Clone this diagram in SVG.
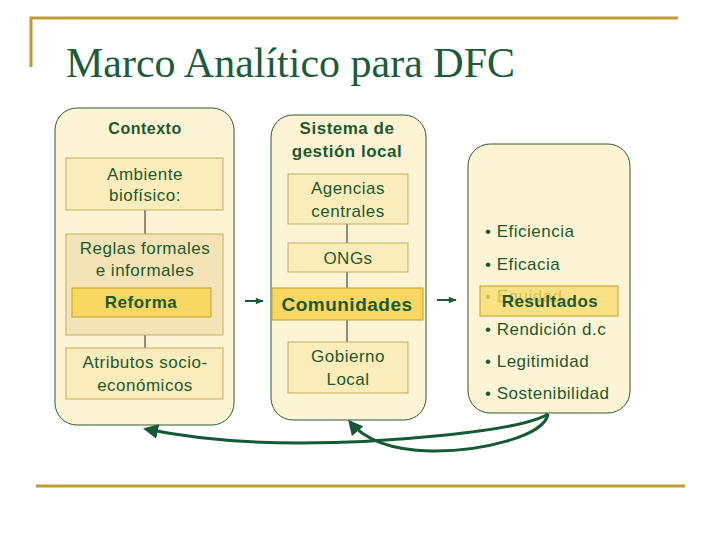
<svg xmlns="http://www.w3.org/2000/svg" width="720" height="540" viewBox="0 0 720 540">
<style>
.frame{fill:#fdf4d6;stroke:#2d5a2d;stroke-width:1}
.box{fill:#fbecbc;stroke:#c4ac5c;stroke-width:1}
.boxd{fill:#f4e3b6;stroke:#c4ac5c;stroke-width:1}
.hl{fill:#f8d862;stroke:#c4a030;stroke-width:1}
.t{font-family:"Liberation Sans",Arial,sans-serif;font-size:17px;letter-spacing:0.5px;fill:#1c5a2c;text-anchor:middle}
.b{font-weight:bold}
.l{text-anchor:start}
.big{font-size:19px;letter-spacing:0.5px}
.sm{font-size:16px}
.faint{fill:#7f8a2e}
.gold{stroke:#bd9c35;stroke-width:3;fill:none}
.link{stroke:#222;stroke-width:1}
.conn{stroke:#155a35;stroke-width:3;fill:none}
</style>
<defs>
<marker id="ah" viewBox="0 0 10 10" refX="8" refY="5" markerWidth="5" markerHeight="5" orient="auto-start-reverse" markerUnits="strokeWidth">
<path d="M0,0 L10,5 L0,10 z" fill="#155a35"/>
</marker>
<marker id="sa" viewBox="0 0 10 10" refX="9" refY="5" markerWidth="9" markerHeight="8" orient="auto" markerUnits="userSpaceOnUse">
<path d="M0,1 L10,5 L0,9 z" fill="#155a35"/>
</marker>
</defs>
<g id="decor">
<path class="gold" d="M31,67 V18 H678"/>
<path class="gold" d="M36,486 H685"/>
<text x="66" y="77" font-family="Liberation Serif,'Times New Roman',serif" font-size="42" fill="#1c5c3a">Marco Analítico para DFC</text>
</g>
<g id="contexto">
<rect class="frame" x="55" y="108" width="179" height="317" rx="22"/>
<text class="t b sm" x="145" y="134">Contexto</text>
<line class="link" x1="145" y1="210" x2="145" y2="234"/>
<line class="link" x1="145" y1="335" x2="145" y2="348"/>
<rect class="box" x="66" y="158" width="157" height="52"/>
<text class="t" x="145" y="180">Ambiente</text>
<text class="t" x="145" y="201">biofísico:</text>
<rect class="boxd" x="66" y="234" width="157" height="101"/>
<text class="t" x="145" y="254">Reglas formales</text>
<text class="t" x="145" y="276">e informales</text>
<rect class="hl" x="72" y="288" width="139" height="29"/>
<text class="t b" x="141" y="308">Reforma</text>
<rect class="box" x="66" y="348" width="157" height="51"/>
<text class="t" x="145" y="368">Atributos socio-</text>
<text class="t" x="145" y="391">económicos</text>
</g>
<g id="sistema">
<rect class="frame" x="271" y="115" width="155" height="305" rx="22"/>
<text class="t b" x="347" y="134">Sistema de</text>
<text class="t b" x="347" y="157">gestión local</text>
<line class="link" x1="347" y1="224" x2="347" y2="243"/>
<line class="link" x1="347" y1="272" x2="347" y2="288"/>
<line class="link" x1="347" y1="320" x2="347" y2="342"/>
<rect class="box" x="288" y="174" width="120" height="50"/>
<text class="t" x="348" y="194">Agencias</text>
<text class="t" x="348" y="217">centrales</text>
<rect class="box" x="288" y="243" width="120" height="29"/>
<text class="t" x="348" y="264">ONGs</text>
<rect class="hl" x="272" y="288" width="151" height="32"/>
<text class="t b big" x="347" y="311">Comunidades</text>
<rect class="box" x="288" y="342" width="120" height="51"/>
<text class="t" x="348" y="362">Gobierno</text>
<text class="t" x="348" y="385">Local</text>
</g>
<g id="resultados">
<rect class="frame" x="468" y="144" width="162" height="269" rx="22"/>
<text class="t l" x="485" y="237">• Eficiencia</text>
<text class="t l" x="485" y="270">• Eficacia</text>
<text class="t l faint" x="485" y="302">• Equidad</text>
<rect class="hl" x="480" y="286" width="138" height="30" fill-opacity="0.7"/>
<text class="t b" x="550" y="307">Resultados</text>
<text class="t l" x="485" y="335">• Rendición d.c</text>
<text class="t l" x="485" y="367">• Legitimidad</text>
<text class="t l" x="485" y="399">• Sostenibilidad</text>
</g>
<g id="connectors">
<line x1="245" y1="301" x2="263" y2="301" stroke="#155a35" stroke-width="2" marker-end="url(#sa)"/>
<line x1="437" y1="300" x2="456" y2="300" stroke="#155a35" stroke-width="2" marker-end="url(#sa)"/>
<path class="conn" d="M548,414 C520,432 380,443 300,443 C230,443 180,436 146,429" marker-end="url(#ah)"/>
<path class="conn" d="M548,414 C545,436 480,452 430,451 C390,450 365,440 350,422" marker-end="url(#ah)"/>
</g>
</svg>
